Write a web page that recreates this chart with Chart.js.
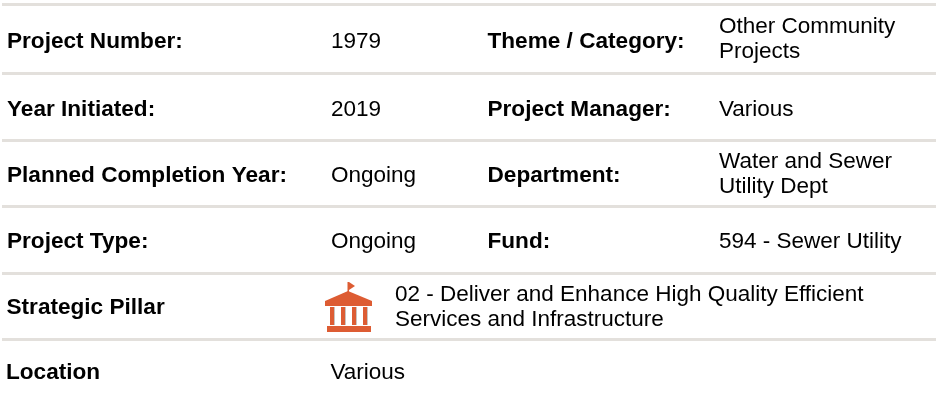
<!DOCTYPE html>
<html>
<head>
<meta charset="utf-8">
<style>
  html, body { margin: 0; padding: 0; background: #fff; }
  canvas { display: block; }
</style>
<script src="https://cdn.jsdelivr.net/npm/chart.js@4"></script>
</head>
<body>
<canvas id="projectChart" width="936" height="400"></canvas>
<script>
// Table contents
const leftLabels = ['Project Number:', 'Year Initiated:', 'Planned Completion Year:', 'Project Type:'];
const leftValues = ['1979', '2019', 'Ongoing', 'Ongoing'];
const rightLabels = ['Theme / Category:', 'Project Manager:', 'Department:', 'Fund:'];
const rightValues = [['Other Community', 'Projects'], ['Various'], ['Water and Sewer', 'Utility Dept'], ['594 - Sewer Utility']];
const footLabels = ['Strategic Pillar', 'Location'];
const pillarText = ['02 - Deliver and Enhance High Quality Efficient', 'Services and Infrastructure'];
const locationText = ['Various'];

// Layout, in pixels of the 936x400 page
const ruleLines = [4, 73, 140, 206.5, 273.5, 339.5];
const rowBaselines = [48, 115.5, 181.5, 248];
const footBaselines = [314, 379];
const wrappedBaselines = { 0: 32.5, 2: 168 };
const fontFamily = '"Liberation Sans", Arial, sans-serif';
const boldSize = 22.6;
const regularSize = 22.5;
const lineGap = 25;

// Orange bank icon for the pillar row
function bankIcon() {
    const c = document.createElement('canvas');
    c.width = 50;
    c.height = 52;
    const g = c.getContext('2d');
    g.fillStyle = '#dd5c33';
    g.fillRect(23.5, 1, 1.5, 10);
    g.beginPath();
    g.moveTo(25, 1);
    g.lineTo(31, 5);
    g.lineTo(25, 9);
    g.fill();
    g.beginPath();
    g.moveTo(24, 10);
    g.lineTo(48, 20);
    g.lineTo(48, 25);
    g.lineTo(1, 25);
    g.lineTo(1, 20);
    g.fill();
    [6, 17, 28, 39].forEach(x => {
        g.fillStyle = '#dd5c33';
        g.fillRect(x, 26, 4, 18);
        g.fillStyle = '#c9c4c0';
        g.fillRect(x + 4, 26, 1, 18);
    });
    g.fillStyle = '#dd5c33';
    g.fillRect(3, 45, 44, 6);
    return c;
}

// One hidden anchor point per line of text
const anchors = [];
function addCell(x, y, text, bold) {
    anchors.push({ x: x, y: y, text: text, bold: bold });
}
leftLabels.forEach((t, i) => addCell(7, rowBaselines[i], t, true));
leftValues.forEach((t, i) => addCell(331, rowBaselines[i], t, false));
rightLabels.forEach((t, i) => addCell(487.5, rowBaselines[i], t, true));
rightValues.forEach((lines, i) => {
    const top = lines.length > 1 ? wrappedBaselines[i] : rowBaselines[i];
    lines.forEach((t, j) => addCell(719, top + j * lineGap, t, false));
});
addCell(6.5, footBaselines[0], footLabels[0], true);
addCell(6, footBaselines[1], footLabels[1], true);
pillarText.forEach((t, j) => addCell(395, 301 + j * lineGap, t, false));
addCell(330.5, footBaselines[1], locationText[0], false);

const cellTextPlugin = {
    id: 'cellText',
    afterDatasetsDraw(chart) {
        const ctx = chart.ctx;
        const meta = chart.getDatasetMeta(0);
        ctx.save();
        ctx.fillStyle = '#000';
        ctx.textBaseline = 'alphabetic';
        ctx.textAlign = 'left';
        meta.data.forEach((pt, i) => {
            const cell = anchors[i];
            ctx.font = cell.bold ? 'bold ' + boldSize + 'px ' + fontFamily : regularSize + 'px ' + fontFamily;
            ctx.fillText(cell.text, pt.x, pt.y);
        });
        ctx.restore();
    }
};

new Chart(document.getElementById('projectChart').getContext('2d'), {
    type: 'scatter',
    data: {
        datasets: [{
            label: 'Cells',
            data: anchors.map(a => ({ x: a.x, y: a.y })),
            pointRadius: 0,
        }, {
            label: 'Pillar icon',
            data: [{ x: 349, y: 307 }],
            pointStyle: bankIcon(),
            pointRadius: 3,
        }]
    },
    options: {
        responsive: false,
        animation: false,
        layout: { autoPadding: false, padding: { left: 2 } },
        plugins: {
            legend: { display: false },
            tooltip: { enabled: false },
        },
        scales: {
            x: { type: 'linear', display: false, min: 2, max: 936 },
            y: {
                type: 'linear',
                reverse: true,
                min: 0,
                max: 400,
                afterBuildTicks(scale) {
                    scale.ticks = ruleLines.map(v => ({ value: v }));
                },
                ticks: { display: false },
                border: { display: false },
                grid: { color: '#e3e0dc', lineWidth: 3, drawTicks: false },
            },
        },
    },
    plugins: [cellTextPlugin],
});
</script>
</body>
</html>
